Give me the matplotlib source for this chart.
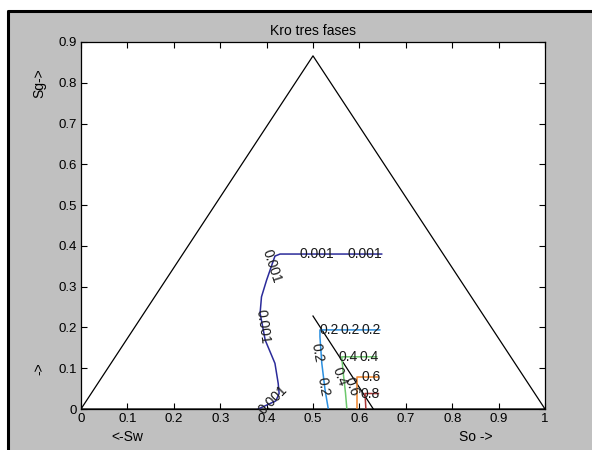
import numpy as np
import matplotlib.pyplot as plt
from matplotlib.lines import Line2D
from matplotlib.patches import Rectangle

plt.rcParams['font.family'] = ['Liberation Sans', 'DejaVu Sans']

# triangle outline (ternary diagram)
tri_x = [0, 0.5, 1, 0]
tri_y = [0, 0.866, 0, 0]
# straight black limit line
lim_x = [0.5, 0.63]
lim_y = [0.228, 0.0]

# contour 0.001
c001_x = [0.648, 0.429, 0.418, 0.400, 0.389, 0.386, 0.397, 0.418, 0.425, 0.427, 0.420, 0.382]
c001_y = [0.380, 0.380, 0.375, 0.316, 0.275, 0.235, 0.169, 0.112, 0.063, 0.038, 0.020, 0.0]
# contour 0.2
c02_x = [0.644, 0.515, 0.515, 0.519, 0.526, 0.533]
c02_y = [0.194, 0.194, 0.177, 0.112, 0.047, 0.0]
# contour 0.4
c04_x = [0.637, 0.562, 0.565, 0.570, 0.573]
c04_y = [0.128, 0.128, 0.090, 0.040, 0.0]
# contour 0.6
c06_x = [0.641, 0.594, 0.594, 0.594]
c06_y = [0.079, 0.079, 0.040, 0.0]
# contour 0.8
c08_x = [0.641, 0.612, 0.613, 0.614]
c08_y = [0.038, 0.038, 0.020, 0.0]

contours = [
    (c001_x, c001_y, '#2b2b9a'),
    (c02_x, c02_y, '#2a8fe0'),
    (c04_x, c04_y, '#6cc86c'),
    (c06_x, c06_y, '#f0842a'),
    (c08_x, c08_y, '#a83232'),
]

# contour labels: text, x, y, rotation
lab_txt = ['0.001', '0.001', '0.001', '0.001', '0.001',
           '0.2', '0.2', '0.2', '0.2', '0.2',
           '0.4', '0.4', '0.4', '0.6', '0.6', '0.8']
lab_x = [0.508, 0.612, 0.411, 0.393, 0.414,
         0.535, 0.580, 0.625, 0.509, 0.522,
         0.576, 0.620, 0.558, 0.625, 0.584, 0.623]
lab_y = [0.380, 0.380, 0.349, 0.202, 0.022,
         0.194, 0.194, 0.194, 0.137, 0.054,
         0.128, 0.128, 0.079, 0.079, 0.054, 0.038]
lab_rot = [0, 0, -72, -82, 45,
           0, 0, 0, -80, -80,
           0, 0, -70, 0, -70, 0]

fig = plt.figure(figsize=(5.92, 4.5), dpi=100)
fig.patch.set_facecolor('#c0c0c0')

# white margin + black border like the screenshot
fig.add_artist(Rectangle((0, 0.977), 1, 0.023, transform=fig.transFigure,
                         facecolor='white', edgecolor='none', zorder=-1))
fig.add_artist(Rectangle((0, 0), 0.012, 1, transform=fig.transFigure,
                         facecolor='white', edgecolor='none', zorder=-1))
fig.add_artist(Line2D([0.014, 0.014, 1.0], [0.0, 0.976, 0.976],
                      transform=fig.transFigure, color='black', lw=2.2))

ax = fig.add_axes([0.1368, 0.0911, 0.7838, 0.8156])
ax.set_facecolor('white')

ax.plot(tri_x, tri_y, color='black', lw=0.9)
ax.plot(lim_x, lim_y, color='black', lw=0.9)
for cx, cy, col in contours:
    ax.plot(cx, cy, color=col, lw=1.1)

for t, x, y, r in zip(lab_txt, lab_x, lab_y, lab_rot):
    ax.text(x, y, t, fontsize=10, rotation=r, ha='center', va='center',
            color='#1a1a1a', rotation_mode='anchor')

ax.set_xlim(0, 1)
ax.set_ylim(0, 0.9)
ax.set_xticks(np.arange(0, 1.01, 0.1))
ax.set_yticks(np.arange(0, 0.91, 0.1))
ax.set_xticklabels(['0', '0.1', '0.2', '0.3', '0.4', '0.5', '0.6', '0.7', '0.8', '0.9', '1'])
ax.set_yticklabels(['0', '0.1', '0.2', '0.3', '0.4', '0.5', '0.6', '0.7', '0.8', '0.9'])
ax.tick_params(direction='in', top=True, right=True, length=4, width=0.8,
               labelsize=9.5, colors='black', pad=3)
for s in ax.spines.values():
    s.set_linewidth(0.9)

ax.set_title('Kro tres fases', fontsize=10, pad=5)

ax.text(0.10, -0.075, '<-Sw', fontsize=10, ha='center', va='center',
        transform=ax.get_xaxis_transform())
ax.text(0.85, -0.075, 'So ->', fontsize=10, ha='center', va='center',
        transform=ax.get_xaxis_transform())
ax.text(-0.09, 0.8, 'Sg->', fontsize=10, ha='center', va='center', rotation=90,
        transform=ax.get_yaxis_transform())
ax.text(-0.09, 0.1, '->', fontsize=10, ha='center', va='center', rotation=90,
        transform=ax.get_yaxis_transform())

fig.savefig('out.png', dpi=100, facecolor=fig.get_facecolor())
